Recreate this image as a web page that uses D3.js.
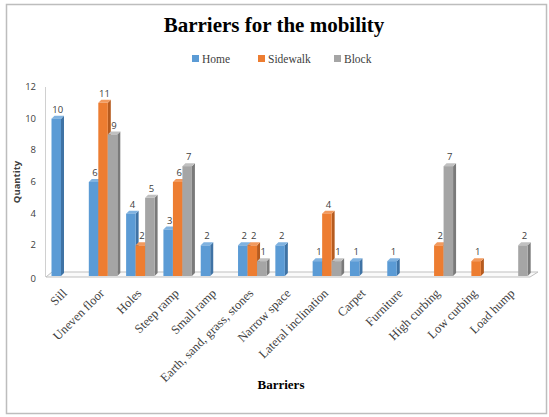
<!DOCTYPE html>
<html>
<head>
<meta charset="utf-8">
<script src="https://cdn.jsdelivr.net/npm/d3@7"></script>
<style>
  body { margin: 0; background: #fff; }
  .tick-label { font-family: "Open Sans", "Liberation Sans", sans-serif; font-size: 9.5px; fill: #404040; }
  .value-label { font-family: "Open Sans", "Liberation Sans", sans-serif; font-size: 9.5px; fill: #404040; }
  .cat-label { font-family: "Liberation Serif", serif; font-size: 12.5px; fill: #404040; }
</style>
</head>
<body>
<div id="chart"></div>
<script>
// Data
const categories = ["Sill", "Uneven floor", "Holes", "Steep ramp", "Small ramp",
    "Earth, sand, grass, stones", "Narrow space", "Lateral inclination", "Carpet",
    "Furniture", "High curbing", "Low curbing", "Load hump"];
const seriesNames = ["Home", "Sidewalk", "Block"];
const homeValues     = [10, 6, 4, 3, 2, 2, 2, 1, 1, 1, 0, 0, 0];
const sidewalkValues = [0, 11, 2, 6, 0, 2, 0, 4, 0, 0, 2, 1, 0];
const blockValues    = [0, 9, 5, 7, 0, 1, 0, 1, 0, 0, 7, 0, 2];
const yTicks = [0, 2, 4, 6, 8, 10, 12];

const width = 549, height = 417;
const colors = {
    Home:     { front: "#5b9bd5", side: "#3f73a5", top: "#7fb2e0" },
    Sidewalk: { front: "#ed7d31", side: "#b65b1f", top: "#f29a5e" },
    Block:    { front: "#a5a5a5", side: "#7a7a7a", top: "#c0c0c0" }
};
const depthX = 3, depthY = 3;

const valuesBySeries = { Home: homeValues, Sidewalk: sidewalkValues, Block: blockValues };

const svg = d3.select("#chart")
    .append("svg")
    .attr("width", width)
    .attr("height", height);

// Outer frame
svg.append("rect")
    .attr("x", 6.5).attr("y", 4.5)
    .attr("width", 540).attr("height", 409)
    .attr("fill", "#fff")
    .attr("stroke", "#bdbdbd")
    .attr("stroke-width", 1.5);

// Scales
const x0 = d3.scaleBand().domain(categories).range([46, 531]);
const x1 = d3.scaleBand().domain(seriesNames).range([0, 28.5]);
const groupOffset = 5.5;
const y = d3.scaleLinear().domain([0, 12]).range([277, 87]);

// Title
svg.append("text")
    .attr("x", 274).attr("y", 32)
    .attr("text-anchor", "middle")
    .style("font-family", "Liberation Serif, serif")
    .style("font-weight", "bold")
    .style("font-size", "21px")
    .attr("fill", "#000")
    .text("Barriers for the mobility");

// Legend
const legendX = [192, 258, 334];
const legend = svg.append("g");
seriesNames.forEach((s, i) => {
    const g = legend.append("g").attr("transform", `translate(${legendX[i]}, 55)`);
    g.append("rect").attr("width", 7).attr("height", 7).attr("fill", colors[s].front);
    g.append("text")
        .attr("x", 10).attr("y", 7.5)
        .style("font-family", "Liberation Serif, serif")
        .style("font-size", "11.5px")
        .attr("fill", "#404040")
        .text(s);
});

// Vertical wall line
svg.append("line")
    .attr("x1", 45.5).attr("x2", 45.5)
    .attr("y1", y(12)).attr("y2", 277)
    .attr("stroke", "#d0d0d0");

// Y tick labels
svg.selectAll(".tick-label")
    .data(yTicks)
    .join("text")
    .attr("class", "tick-label")
    .attr("x", 36)
    .attr("y", d => y(d) + 3 + (d === 0 ? 2 : 0))
    .attr("text-anchor", "end")
    .text(d => d);

// Floor
svg.append("path")
    .attr("d", `M46,277 L530,277 L538,272 L52,272 Z`)
    .attr("fill", "#fafafa")
    .attr("stroke", "#bfbfbf")
    .attr("stroke-width", 1);

// Bars (flatten to draw left to right)
const bars = [];
categories.forEach((c, ci) => {
    seriesNames.forEach(s => {
        const v = valuesBySeries[s][ci];
        if (v > 0) bars.push({ cat: c, series: s, value: v });
    });
});

const bw = x1.bandwidth();
const barG = svg.append("g");
bars.forEach(d => {
    const bx = x0(d.cat) + groupOffset + x1(d.series);
    const by = y(d.value);
    const base = y(0) - 1;
    const g = barG.append("g");
    // side face
    g.append("path")
        .attr("d", `M${bx + bw},${by} L${bx + bw + depthX},${by - depthY} L${bx + bw + depthX},${base - depthY} L${bx + bw},${base} Z`)
        .attr("fill", colors[d.series].side);
    // top face
    g.append("path")
        .attr("d", `M${bx},${by} L${bx + depthX},${by - depthY} L${bx + bw + depthX},${by - depthY} L${bx + bw},${by} Z`)
        .attr("fill", colors[d.series].top);
    // front face
    g.append("rect")
        .attr("x", bx).attr("y", by)
        .attr("width", bw).attr("height", base - by)
        .attr("fill", colors[d.series].front);
});

// Value labels
svg.selectAll(".value-label")
    .data(bars)
    .join("text")
    .attr("class", "value-label")
    .attr("x", d => x0(d.cat) + groupOffset + x1(d.series) + (bw + depthX) / 2)
    .attr("y", d => y(d.value) - 6)
    .attr("text-anchor", "middle")
    .text(d => d.value);

// Category labels, rotated
svg.selectAll(".cat-label")
    .data(categories)
    .join("text")
    .attr("class", "cat-label")
    .attr("text-anchor", "end")
    .attr("transform", d => `translate(${x0(d) + x0.bandwidth() / 2 + 3}, 294) rotate(-45)`)
    .text(d => d);

// Axis titles
svg.append("text")
    .attr("x", 281).attr("y", 389)
    .attr("text-anchor", "middle")
    .style("font-family", "Liberation Serif, serif")
    .style("font-weight", "bold")
    .style("font-size", "13px")
    .attr("fill", "#000")
    .text("Barriers");

svg.append("text")
    .attr("transform", "translate(20, 182) rotate(-90)")
    .attr("text-anchor", "middle")
    .style("font-family", "Open Sans, sans-serif")
    .style("font-weight", "bold")
    .style("font-size", "9.5px")
    .attr("fill", "#404040")
    .text("Quantity");
</script>
</body>
</html>
